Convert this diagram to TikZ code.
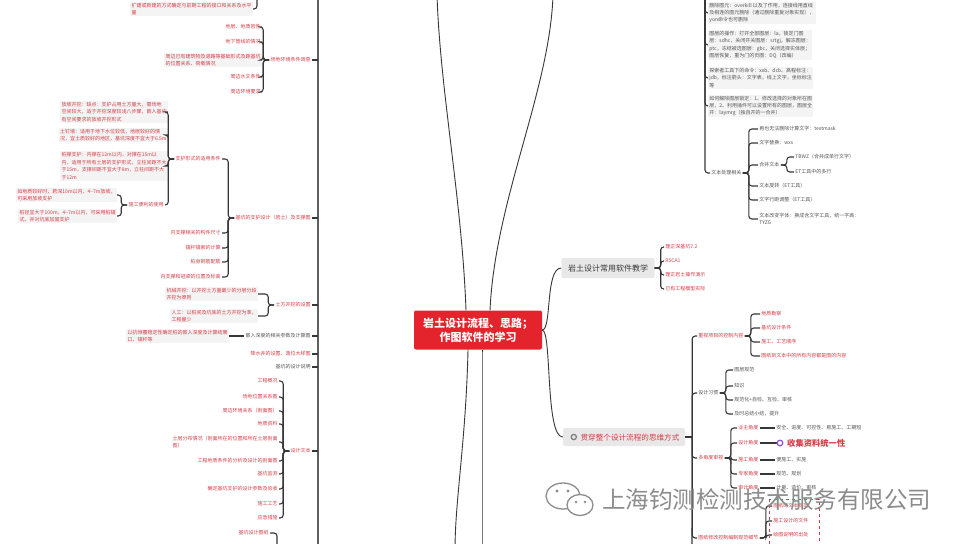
\documentclass[tikz,border=0pt]{standalone}
\usepackage{fontspec}
\setmainfont{Noto Sans CJK SC}
\definecolor{redtx}{RGB}{212,62,72}
\definecolor{darktx}{RGB}{85,85,85}
\definecolor{linec}{RGB}{55,55,55}
\definecolor{notebg}{RGB}{244,244,244}
\definecolor{centerred}{RGB}{228,36,44}
\definecolor{boxgrey}{RGB}{232,232,232}
\definecolor{wmgrey}{RGB}{140,140,140}
\definecolor{ringpurple}{RGB}{150,90,200}
\tikzset{
  base/.style={font=\fontsize{5}{7.4}\selectfont, inner sep=1.2pt, align=left},
  rt/.style={base,text=redtx},
  dk/.style={base,text=darktx},
  rnote/.style={rt,fill=notebg},
  dnote/.style={dk,fill=notebg},
  lnk/.style={draw=linec,line width=1.1pt,rounded corners=3pt},
  mainln/.style={draw=linec!80,line width=1.4pt},
  curveln/.style={draw=linec,line width=0.9pt},
}
\newcommand\lbrs[2]{\foreach \c in {#2}{\draw[lnk] (#1.west) -- ++(-6,0) |- (\c.east);}}
\newcommand\rbrs[2]{\foreach \c in {#2}{\draw[lnk] (#1.east) -- ++(6,0) |- (\c.west);}}
\begin{document}
\begin{tikzpicture}[x=1pt,y=-1pt]
\useasboundingbox (0,0) rectangle (968,543);
\fill[white] (0,0) rectangle (968,543);

% ---------------- left main line ----------------
\coordinate (MLa) at (318,-5);
\coordinate (MLb) at (318,550);
\draw[mainln] (MLa) -- (MLb);

% top note
\node[rnote,anchor=east] (L0) at (253,9) {扩建或新建的方式确定与前期工程的接口和关系及水平\\量};
\coordinate (L0up) at (257,-5);
\draw[lnk] (L0.east) -| (L0up);

% group A
\node[rt,anchor=east] (A) at (312,60) {场地环境条件调查};
\node[rt,anchor=east] (A1) at (262,27) {地层、地质岩性};
\node[rt,anchor=east] (A2) at (262,42) {地下管线的情况};
\node[rnote,anchor=east] (A3) at (262,60) {周边已有建筑物及道路等基础形式及距基坑\\的位置关系、荷载情况};
\node[rt,anchor=east] (A4) at (262,77) {周边水文条件};
\node[rt,anchor=east] (A5) at (262,92) {周边环境要求};
\lbrs{A}{A1,A2,A3,A4,A5}

% group B
\node[rt,anchor=east] (B) at (312,218) {基坑的支护设计（岩土）及支撑图};
\node[rt,anchor=east] (B1) at (222,159) {支护形式的适用条件};
\node[rnote,anchor=east] (B1a) at (168,112) {放坡开挖：缺点：支护占用土方量大，需场地\\空间较大，适于开挖深度较浅八步骤，嵌入基坑\\有空间要求的放坡开挖形式};
\node[rnote,anchor=east] (B1b) at (168,135) {土钉墙：适用于地下水位较低，地层较好的情\\况，宜土质较好的地区，基坑深度不宜大于6.5m};
\node[rnote,anchor=east] (B1c) at (168,166) {桩撑支护：内撑在12m以内，对撑在15m以\\内，适用于所有土层的支护形式，立柱间距不大\\于15m，支撑间距不宜大于8m，立柱间距不大\\于12m};
\node[rt,anchor=east] (B1d) at (165,205) {施工便利的使用};
\node[rnote,anchor=east] (B1d1) at (117,195) {如地质较好时，若深10m以内，4\textasciitilde 7m放坡，\\可采用放坡支护};
\node[rnote,anchor=east] (B1d2) at (117,216) {桩径宜大于100m，4\textasciitilde 7m以内，可采用桩锚\\式，并对坑底加固支护};
\node[rt,anchor=east] (B2) at (222,233) {内支撑相关的构件尺寸};
\node[rt,anchor=east] (B3) at (222,248) {锚杆锚索的计算};
\node[rt,anchor=east] (B4) at (222,262) {桩身钢筋配筋};
\node[rt,anchor=east] (B5) at (222,277) {内支撑和冠梁的位置及标高};
\lbrs{B}{B1,B2,B3,B4,B5}
\lbrs{B1}{B1a,B1b,B1c,B1d}
\lbrs{B1d}{B1d1,B1d2}

% group C
\node[rt,anchor=east] (C) at (312,305) {土方开挖的设置};
\node[rnote,anchor=east] (C1) at (258,294) {机械开挖：以开挖土方量最少的分层分段\\开挖为原则};
\node[rnote,anchor=east] (C2) at (258,316) {人工：以桩间及坑底的土方开挖为准，\\工程量少};
\lbrs{C}{C1,C2}

% D, E, F
\node[dk,anchor=east] (D) at (312,336) {嵌入深度的相关参数及计算图};
\node[rnote,anchor=east] (D1) at (229,336) {以抗倾覆稳定性确定桩的嵌入深度及计算结果\\口、锚杆等};
\draw[lnk] (D.west) -- (D1.east);
\node[rt,anchor=east] (E) at (312,354) {降水井的设置、落位大样图};
\node[dk,anchor=east] (F) at (312,367) {基坑的设计说明};

% group G
\node[rt,anchor=east] (G) at (312,451) {设计文本};
\node[rt,anchor=east] (G1) at (279,381) {工程概况};
\node[rt,anchor=east] (G2) at (279,397) {场地位置关系图};
\node[rt,anchor=east] (G3) at (279,411) {周边环境关系（剖面图）};
\node[rt,anchor=east] (G4) at (279,424) {地质资料};
\node[rt,anchor=east] (G5) at (279,442) {土层分布情况（剖面所在的位置和所在土层剖面\\图）};
\node[rt,anchor=east] (G6) at (279,461) {工程地质条件的分析及设计的剖面图};
\node[rt,anchor=east] (G7) at (279,474) {基坑监测};
\node[rt,anchor=east] (G8) at (279,489) {确定基坑支护的设计参数及验收};
\node[rt,anchor=east] (G9) at (279,504) {施工工艺};
\node[rt,anchor=east] (G10) at (279,518) {应急措施};
\lbrs{G}{G1,G2,G3,G4,G5,G6,G7,G8,G9,G10}

\node[rt,anchor=east] (H) at (270,533) {基坑设计图纸};
\coordinate (Hdn) at (277,550);
\draw[lnk] (H.east) -| (Hdn);

\foreach \p in {A,B,C,D,E,F,G}{\draw[lnk] (\p.east) -- (\p.east -| MLa);}

% ---------------- center ----------------
\node[fill=centerred, text=white, rounded corners=2pt, minimum width=128, minimum height=39, align=center,
      font=\fontsize{11}{14}\selectfont\bfseries] (C0) at (478,330) {岩土设计流程、思路；\\作图软件的学习};
\coordinate (Cup1) at (437,-5);
\coordinate (Cup2) at (553,-5);
\coordinate (Cdn1) at (455,550);
\coordinate (Cdn2) at (482,550);
\draw[curveln] ([xshift=-12pt]C0.north) .. controls (462,200) and (440,90) .. (Cup1);
\draw[curveln] ([xshift=12pt]C0.north) .. controls (495,200) and (550,90) .. (Cup2);
\draw[curveln] ([xshift=-10pt]C0.south) .. controls (466,440) and (455,500) .. (Cdn1);
\draw[curveln] ([xshift=4pt]C0.south) .. controls (482,440) and (482,500) .. (Cdn2);

% ---------------- right top ----------------
\coordinate (RT) at (705,-5);
\node[dnote,anchor=west] (R1) at (708,13) {删除图元：overkill 以及了作用，连接线用直线\\及相连的图元删除（通过删除重复对象实现），\\yon命令也可删除};
\node[dnote,anchor=west] (R2) at (708,45) {图层的操作：打开全部图层：la，锁定门图\\层：sdhc，关闭开关图层：srtgj，解冻图层：\\ptc，冻结被选图层：gbc，关闭选择实体层；\\图层恢复，重为门的页图：DQ（改编）};
\node[dnote,anchor=west] (R3) at (708,78) {探索者工具下的命令：xxb、dcb、高程标注：\\jdb，标注箭头：文字表，线上文字，坐标标注\\等};
\node[dnote,anchor=west] (R4) at (708,106) {如何解除图层锁定：1、修改选择的对象所在图\\层，2、利用插件可以设置所有的图层，图层全\\开：laymrg（独自开的一合并）};
\node[dk,anchor=west] (TX) at (710,173) {文本处理相关};
\foreach \c in {R1,R2,R3,R4,TX}{\draw[lnk] (RT) |- (\c.west);}

\node[dk,anchor=west] (T1) at (758,129) {再也无法删除计算文字：textmask};
\node[dk,anchor=west] (T2) at (758,143) {文字替换：wxs};
\node[dk,anchor=west] (T3) at (758,165) {合并文本};
\node[dk,anchor=west] (T3a) at (794,157) {TBWZ（合并成单行文字）};
\node[dk,anchor=west] (T3b) at (794,172) {ET工具中的多行};
\node[dk,anchor=west] (T4) at (758,186) {文本旋转（ET工具）};
\node[dk,anchor=west] (T5) at (758,200) {文字行距调整（ET工具）};
\node[dk,anchor=west] (T6) at (758,219) {文本改变字体：换成含文字工具，统一字高：\\TYZG};
\rbrs{TX}{T1,T2,T3,T4,T5,T6}
\rbrs{T3}{T3a,T3b}

% software branch
\node[fill=boxgrey, text=linec, rounded corners=2pt, minimum width=93, minimum height=20,
      font=\fontsize{8}{10}\selectfont] (SW) at (608,268) {岩土设计常用软件教学};
\node[rt,anchor=west] (S1) at (664,247) {理正深基坑7.2};
\node[rt,anchor=west] (S2) at (664,261) {RSCA1};
\node[rt,anchor=west] (S3) at (664,275) {理正岩土操作演示};
\node[rt,anchor=west] (S4) at (664,289) {已有工程模型实际};
\rbrs{SW}{S1,S2,S3,S4}

% thinking branch
\node[fill=boxgrey, text=redtx, rounded corners=2pt, minimum width=122, minimum height=18,
      font=\fontsize{7.6}{9}\selectfont, text depth=0pt] (TH) at (624,437) {\hspace*{12pt}贯穿整个设计流程的思维方式};
\draw[draw=gray, line width=1.3pt] ([xshift=11pt]TH.west) circle (2.6);

\draw[curveln] (C0.east) .. controls (552,330) and (545,268) .. (SW.west);
\draw[curveln] (C0.east) .. controls (552,330) and (545,437) .. (TH.west);

\node[rt,anchor=west] (P1) at (697,336) {重视项目的控制内容};
\node[rt,anchor=west] (P1a) at (760,314) {地质勘察};
\node[rt,anchor=west] (P1b) at (760,328) {基坑设计条件};
\node[rt,anchor=west] (P1c) at (760,342) {施工、工艺顺序};
\node[rt,anchor=west] (P1d) at (760,356) {图纸到文本中的所有内容都是图的内容};
\rbrs{P1}{P1a,P1b,P1c,P1d}

\node[dk,anchor=west] (P2) at (697,393) {设计习惯};
\node[dk,anchor=west] (P2a) at (733,370) {图层规范};
\node[dk,anchor=west] (P2b) at (733,386) {知识};
\node[dk,anchor=west] (P2c) at (733,400) {规范化+自检、互检、审核};
\node[dk,anchor=west] (P2d) at (733,414) {及时总结小结，提升};
\rbrs{P2}{P2a,P2b,P2c,P2d}

\node[rt,anchor=west] (P3) at (697,458) {多角度审视};
\node[rt,anchor=west] (P3a) at (737,428) {业主角度};
\node[rt,anchor=west] (P3b) at (737,443) {设计角度};
\node[rt,anchor=west] (P3c) at (737,460) {施工角度};
\node[rt,anchor=west] (P3d) at (737,474) {专家角度};
\node[rt,anchor=west] (P3e) at (737,488) {审计角度};
\rbrs{P3}{P3a,P3b,P3c,P3d,P3e}
\node[dk,anchor=west] (V1) at (775,428) {安全、进度、可控性、易施工、工期短};
\node[text=redtx, font=\fontsize{8.3}{10}\selectfont\bfseries, inner sep=1pt, anchor=west] (V2) at (786,443) {收集资料统一性};
\node[dk,anchor=west] (V3) at (775,460) {便施工、实施};
\node[dk,anchor=west] (V4) at (775,474) {规范、规划};
\node[dk,anchor=west] (V5) at (775,488) {计量、造价、审核};
\draw[lnk] (P3a.east) -- (V1.west);
\coordinate (ring) at (780,443);
\draw[lnk] (P3b.east) -- ([xshift=-3.5pt]ring);
\draw[draw=ringpurple, line width=1.3pt] (ring) circle (2.8);
\draw[lnk] (P3c.east) -- (V3.west);
\draw[lnk] (P3d.east) -- (V4.west);
\draw[lnk] (P3e.east) -- (V5.west);

\node[rt,anchor=west] (P4) at (697,538) {图纸修改控制编制规范细节};
\node[rt,anchor=west] (P4a) at (772,506) {图纸的文本规范};
\node[rt,anchor=west] (P4b) at (772,521) {施工设计的文件};
\node[rt,anchor=west] (P4c) at (772,535) {绘图说明的出处};
\rbrs{P4}{P4a,P4b,P4c}
\draw[draw=redtx, dashed, line width=0.7pt] (769,499) rectangle (819,552);

\coordinate (THb) at (692,550);
\draw[lnk] (TH.east) -- ++(7,0) coordinate (THj);
\foreach \c in {P1,P2,P3,P4}{\draw[lnk] (THj) |- (\c.west);}
\draw[lnk] (THj) -- (THb);

% ---------------- watermark ----------------
\draw[wmgrey, line width=1.3pt, fill=white] (563,496) ellipse (17 and 13);
\draw[wmgrey, line width=1.3pt, fill=white] (580,505) ellipse (13 and 10.5);
\fill[wmgrey] (557,491) circle (1.6) (568,491) circle (1.6) (576,502) circle (1.3) (585,502) circle (1.3);
\node[text=wmgrey, font=\fontsize{23.5}{26}\selectfont, inner sep=0pt, anchor=west] (WM) at (602,499) {上海钧测检测技术服务有限公司};
\end{tikzpicture}
\end{document}
